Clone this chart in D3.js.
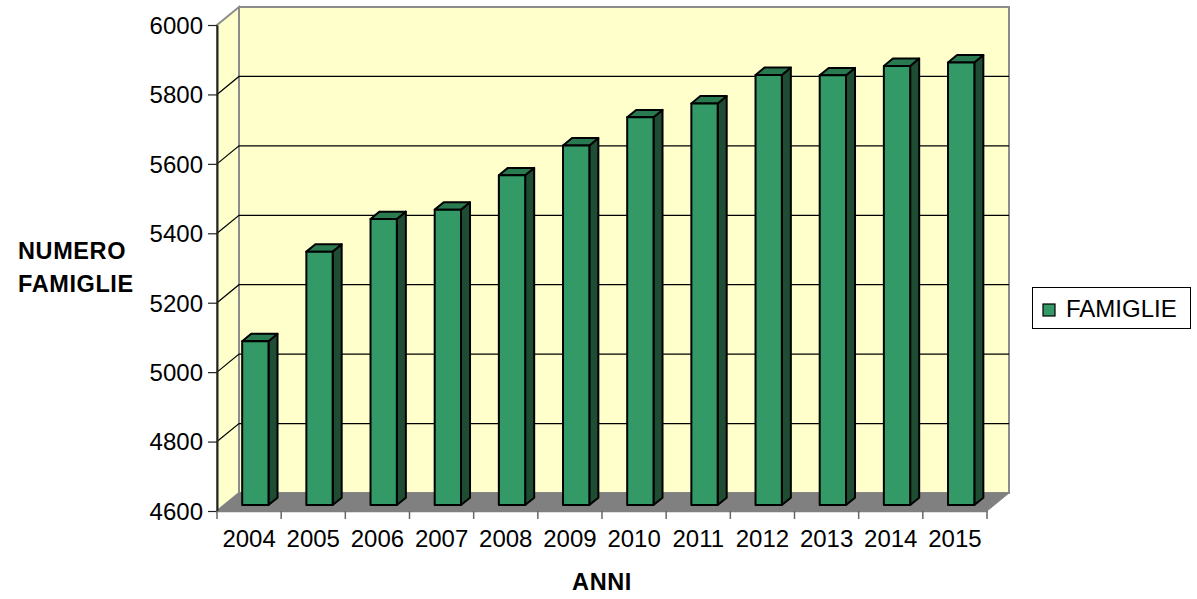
<!DOCTYPE html>
<html>
<head>
<meta charset="utf-8">
<script src="https://cdn.jsdelivr.net/npm/d3@7"></script>
<style>
  html, body { margin: 0; padding: 0; background: #ffffff; }
  svg { display: block; font-family: "Liberation Sans", Arial, sans-serif; }
</style>
</head>
<body>
<svg id="chart" width="1197" height="599"></svg>
<script>
// Numero di famiglie per anno
const anni = ["2004", "2005", "2006", "2007", "2008", "2009", "2010", "2011", "2012", "2013", "2014", "2015"];
const famiglie = [5072, 5330, 5424, 5451, 5550, 5636, 5717, 5757, 5839, 5838, 5865, 5875];
const yTicks = [4600, 4800, 5000, 5200, 5400, 5600, 5800, 6000];
const serieNome = "FAMIGLIE";

const svg = d3.select("#chart");
const FONT = "Liberation Sans, Arial, sans-serif";

// front plane of the 3D box
const x0 = 217, x1 = 987, yTop = 25, yBot = 511;
// depth offset of the back wall
const DX = 22, DY = 18;
// bar depth range (fraction of the box depth)
const Z0 = 0.33, Z1 = 0.74;

const x = d3.scaleBand().domain(anni).range([x0, x1]).paddingInner(0).paddingOuter(0);
const y = d3.scaleLinear().domain([4600, 6000]).range([yBot, yTop]);

const px = (xv, z) => xv + z * DX;
const py = (yv, z) => yv - z * DY;
const pt = (xv, yv, z) => [px(xv, z), py(yv, z)];
const poly = pts => pts.map(p => p.join(",")).join(" ");

const wallFill = "#FFFFCC", wallStroke = "#8c8c8c";

// back wall
svg.append("polygon")
  .attr("points", poly([pt(x0, yTop, 1), pt(x1, yTop, 1), pt(x1, yBot, 1), pt(x0, yBot, 1)]))
  .attr("fill", wallFill).attr("stroke", wallStroke).attr("stroke-width", 2);

// side wall
svg.append("polygon")
  .attr("points", poly([pt(x0, yTop, 0), pt(x0, yTop, 1), pt(x0, yBot, 1), pt(x0, yBot, 0)]))
  .attr("fill", wallFill).attr("stroke", wallStroke).attr("stroke-width", 2);

// floor
svg.append("polygon")
  .attr("points", poly([pt(x0, yBot, 0), pt(x1, yBot, 0), pt(x1, yBot, 1), pt(x0, yBot, 1)]))
  .attr("fill", "#808080").attr("stroke", "#808080").attr("stroke-width", 1);

// gridlines on back and side walls
const gridVals = yTicks.filter(v => v > 4600 && v < 6000);
const grid = svg.append("g").attr("stroke", "#000").attr("stroke-width", 1.2).attr("fill", "none");
gridVals.forEach(v => {
  const yy = y(v);
  grid.append("polyline")
    .attr("points", poly([pt(x0, yy, 0), pt(x0, yy, 1), pt(x1, yy, 1)]));
});

// bars
const bw = x.bandwidth() * 0.41;
const bars = svg.append("g").attr("stroke", "#000").attr("stroke-width", 2).attr("stroke-linejoin", "round");
anni.forEach((a, i) => {
  const v = famiglie[i];
  const xl = x(a) + (x.bandwidth() - bw) / 2 - 1;
  const xr = xl + bw;
  const yt = y(v), yb = y(4600);
  const g = bars.append("g");
  // side face
  g.append("polygon")
    .attr("points", poly([pt(xr, yt, Z0), pt(xr, yt, Z1), pt(xr, yb, Z1), pt(xr, yb, Z0)]))
    .attr("fill", "#1E4D34");
  // top face
  g.append("polygon")
    .attr("points", poly([pt(xl, yt, Z0), pt(xl, yt, Z1), pt(xr, yt, Z1), pt(xr, yt, Z0)]))
    .attr("fill", "#2A7A51");
  // front face
  g.append("polygon")
    .attr("points", poly([pt(xl, yt, Z0), pt(xr, yt, Z0), pt(xr, yb, Z0), pt(xl, yb, Z0)]))
    .attr("fill", "#339966");
});

// y axis
const yAxis = d3.axisLeft(y).tickValues(yTicks).tickFormat(d3.format("d"))
  .tickSize(9).tickPadding(5).tickSizeOuter(0);
const gy = svg.append("g").attr("transform", `translate(${x0},0)`).call(yAxis);
gy.select(".domain").attr("stroke", "#222").attr("stroke-width", 2);
gy.selectAll(".tick line").attr("stroke", "#222").attr("stroke-width", 1.2);
gy.selectAll(".tick text").attr("font-size", 24).attr("fill", "#000")
  .attr("font-family", FONT).attr("dy", "0.35em");

// x axis
const xAxis = d3.axisBottom(x).tickSize(0).tickPadding(19).tickSizeOuter(0);
const gx = svg.append("g").attr("transform", `translate(0,${yBot})`).call(xAxis);
gx.select(".domain").attr("stroke", "#808080").attr("stroke-width", 1.5);
gx.selectAll(".tick text").attr("font-size", 24).attr("fill", "#000")
  .attr("font-family", FONT);
// category separators
const seps = anni.map(a => x(a)).concat([x1]);
gx.selectAll(".sep").data(seps).enter().append("line")
  .attr("x1", d => d).attr("x2", d => d).attr("y1", 0).attr("y2", 8)
  .attr("stroke", "#666").attr("stroke-width", 1.5);

// axis titles
const titolo = svg.append("g").attr("font-weight", "bold").attr("font-size", 23.5)
  .attr("font-family", FONT).attr("fill", "#000");
titolo.append("text").attr("x", 18).attr("y", 259).attr("letter-spacing", 0.6).text("NUMERO");
titolo.append("text").attr("x", 18).attr("y", 292).attr("letter-spacing", 0.6).text("FAMIGLIE");
titolo.append("text").attr("x", 602).attr("y", 590).attr("text-anchor", "middle")
  .attr("letter-spacing", 0.6).text("ANNI");

// legend
const leg = svg.append("g");
leg.append("rect").attr("x", 1032.5).attr("y", 287.5).attr("width", 158).attr("height", 41)
  .attr("fill", "#fff").attr("stroke", "#000").attr("stroke-width", 1);
leg.append("rect").attr("x", 1043).attr("y", 304).attr("width", 12).attr("height", 12)
  .attr("fill", "#339966").attr("stroke", "#000").attr("stroke-width", 1.2);
leg.append("text").attr("x", 1066).attr("y", 317).attr("font-size", 24)
  .attr("font-family", FONT).attr("fill", "#000").text(serieNome);
</script>
</body>
</html>
